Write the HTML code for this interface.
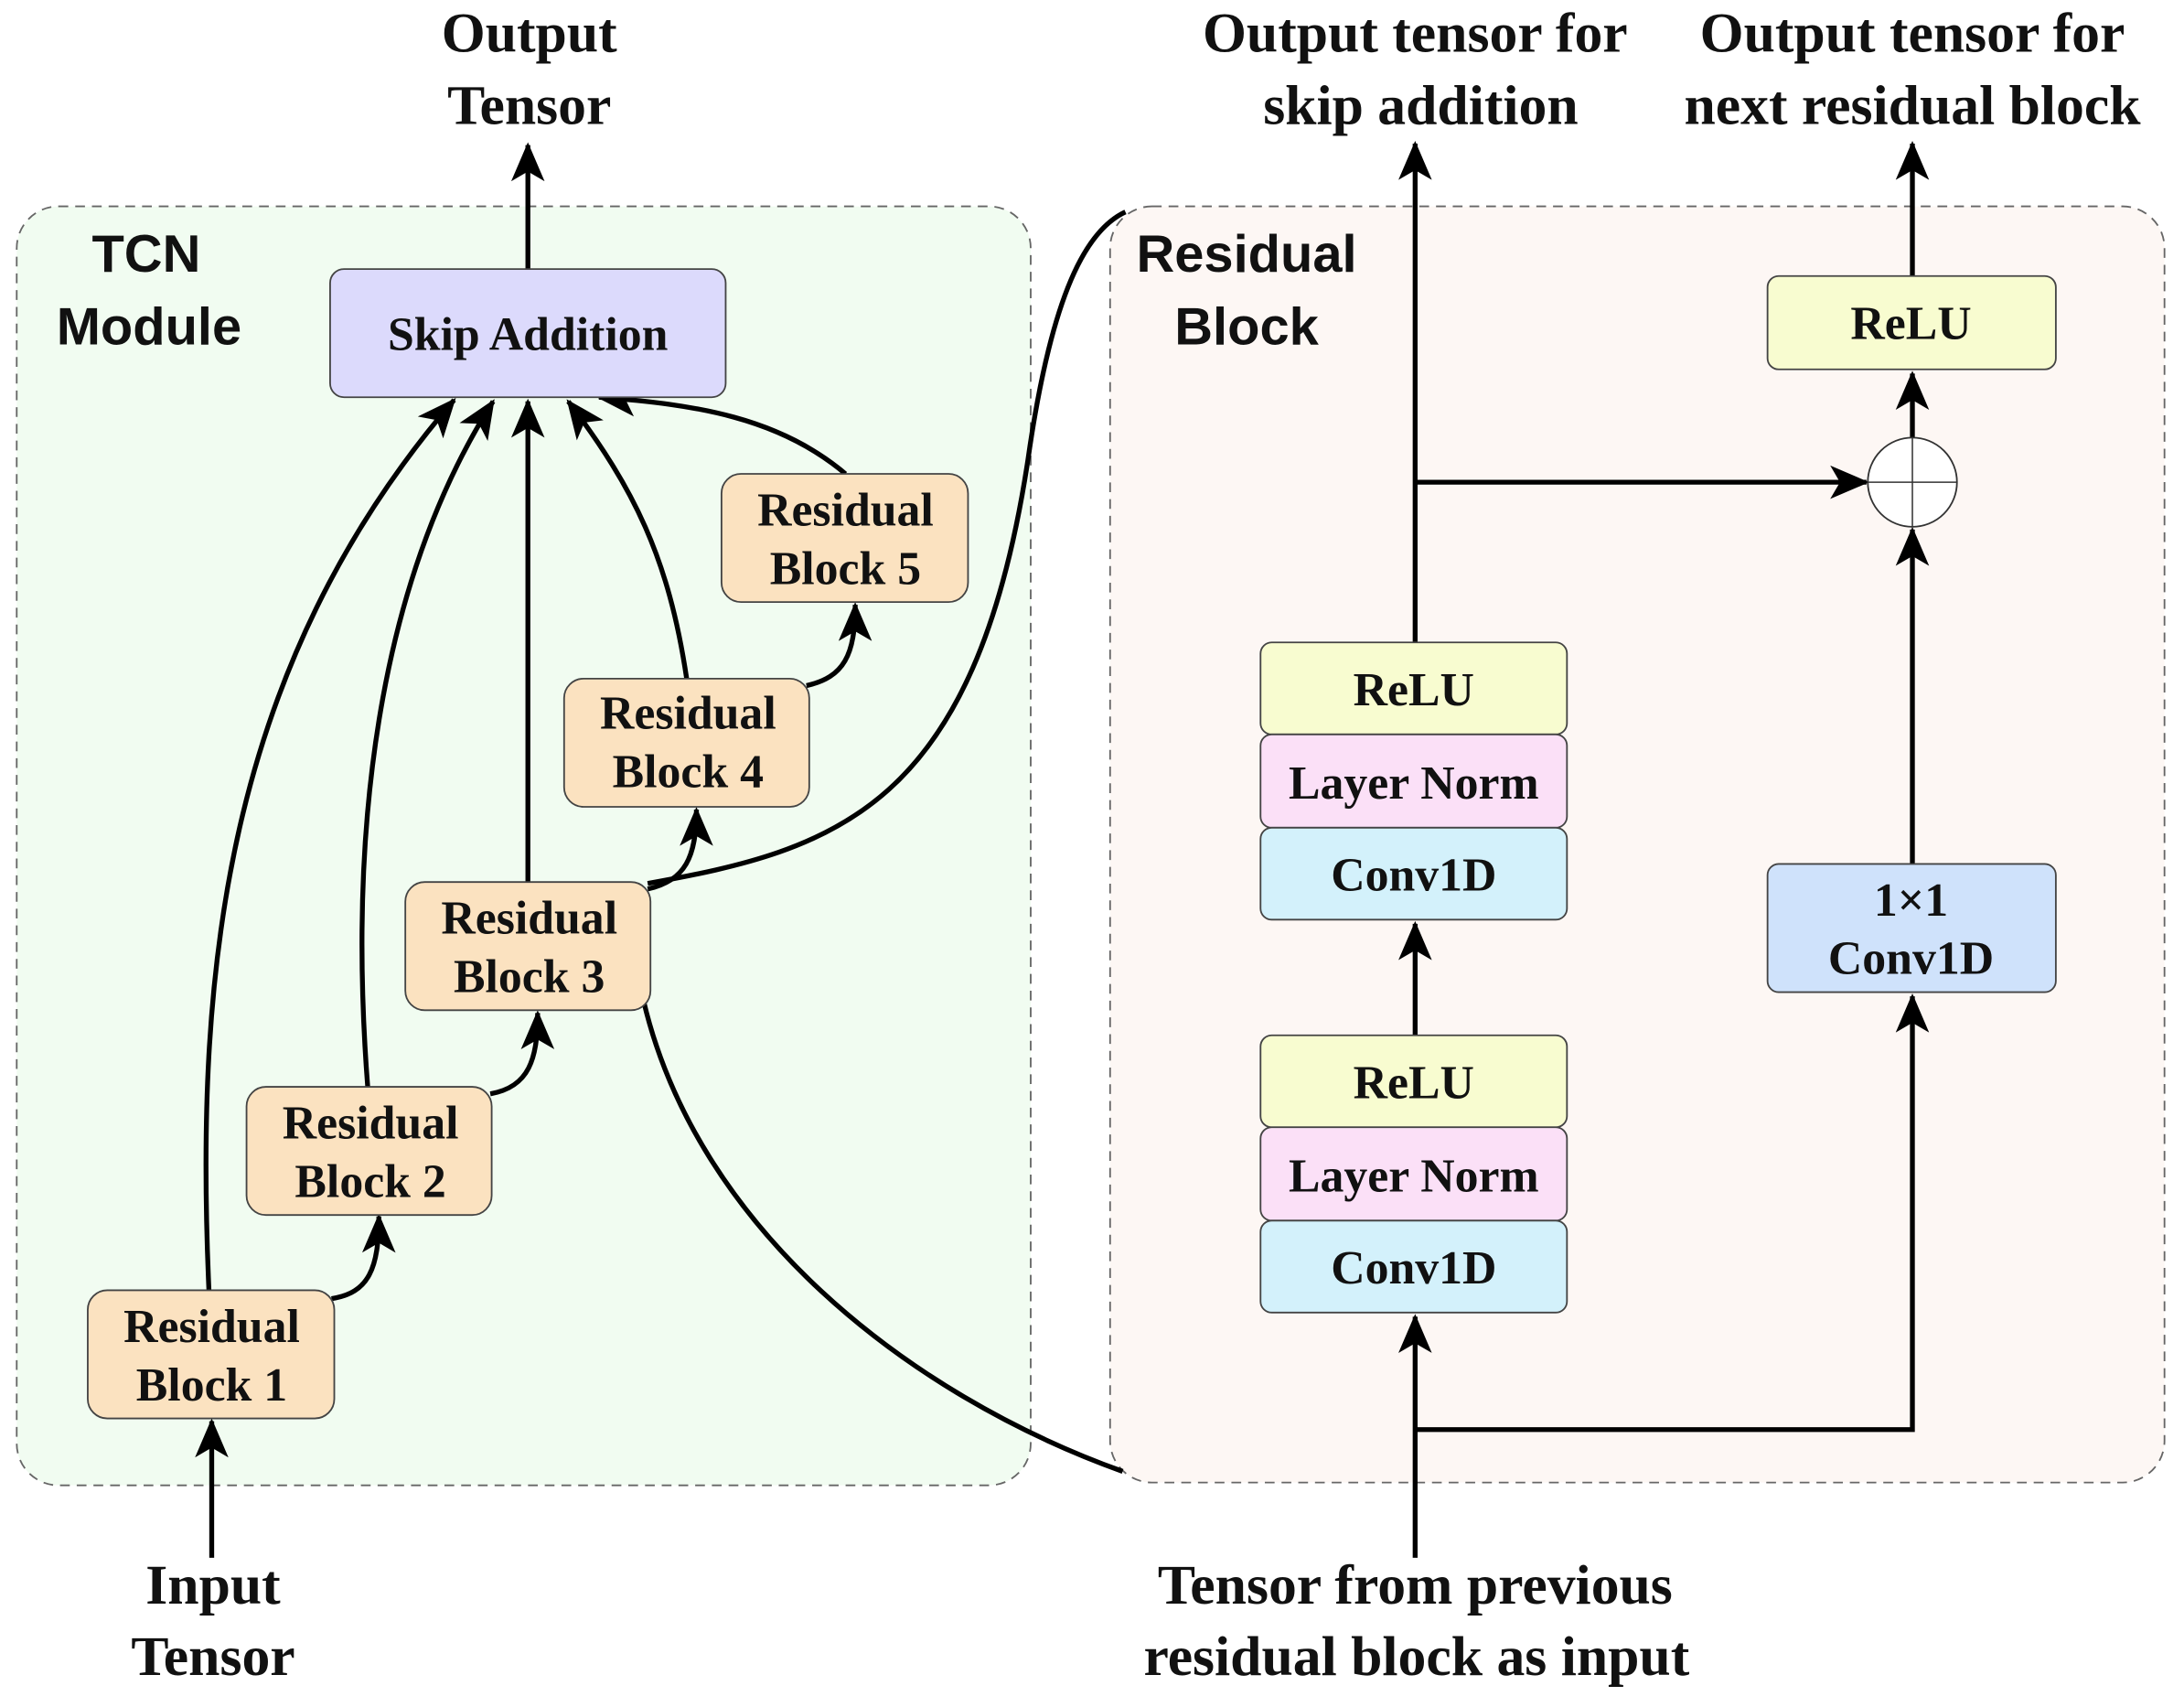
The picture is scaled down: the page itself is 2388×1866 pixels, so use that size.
<!DOCTYPE html>
<html><head><meta charset="utf-8"><style>
html,body{margin:0;padding:0;background:#fff}
svg{display:block}
.t{font-family:"Liberation Serif",serif;font-weight:bold;fill:#111}
.s{font-family:"Liberation Sans",sans-serif;font-weight:bold;fill:#111}
</style></head><body>
<svg width="2388" height="1866" viewBox="0 0 1568 1225" xmlns="http://www.w3.org/2000/svg">
<defs>
<marker id="b" markerWidth="28" markerHeight="24" refX="26" refY="12" orient="auto" markerUnits="userSpaceOnUse" viewBox="0 0 28 24">
<path d="M0,0 L28,12 L0,24 L7,12 Z" fill="#000"/></marker>
</defs>
<rect x="0" y="0" width="1568" height="1225" fill="#fff"/>
<rect x="12" y="148" width="728" height="918" rx="30" fill="#f1fcf1" stroke="#666" stroke-width="1.2" stroke-dasharray="7,5"/>
<rect x="797" y="148" width="757" height="916" rx="30" fill="#fdf7f4" stroke="#666" stroke-width="1.2" stroke-dasharray="7,5"/>
<text class="s" x="105" y="195" font-size="38" text-anchor="middle">TCN</text>
<text class="s" x="107" y="247" font-size="38" text-anchor="middle">Module</text>
<text class="s" x="895" y="195" font-size="38" text-anchor="middle">Residual</text>
<text class="s" x="895" y="247" font-size="38" text-anchor="middle">Block</text>

<g stroke="#000" stroke-width="3.5" fill="none">
<line x1="379" y1="193" x2="379" y2="104" marker-end="url(#b)"/>
<line x1="152" y1="1118" x2="152" y2="1020" marker-end="url(#b)"/>
<path d="M150,926 C140,700 160,480 326,287" marker-end="url(#b)"/>
<path d="M264,780 C250,600 270,420 354,288" marker-end="url(#b)"/>
<line x1="379" y1="633" x2="379" y2="288" marker-end="url(#b)"/>
<path d="M493,487 C480,400 455,350 408,288" marker-end="url(#b)"/>
<path d="M607,340 C560,300 500,290 430,285" marker-end="url(#b)"/>
<path d="M238,932 C265,928 272,910 272,873" marker-end="url(#b)"/>
<path d="M352,785 C380,780 386,760 386,727" marker-end="url(#b)"/>
<path d="M465,638 C492,632 500,615 500,581" marker-end="url(#b)"/>
<path d="M579,492 C606,486 614,470 614,434" marker-end="url(#b)"/>
<path d="M465,634 C600,610 700,580 738,330 C755,210 780,165 808,152"/>
<path d="M462,718 C500,880 650,1000 806,1056"/>
<line x1="1016" y1="1118" x2="1016" y2="945" marker-end="url(#b)"/>
<line x1="1016" y1="743" x2="1016" y2="663" marker-end="url(#b)"/>
<line x1="1016" y1="461" x2="1016" y2="103" marker-end="url(#b)"/>
<line x1="1016" y1="346" x2="1340" y2="346" marker-end="url(#b)"/>
<polyline points="1016,1026 1373,1026 1373,715" marker-end="url(#b)"/>
<line x1="1373" y1="620" x2="1373" y2="380" marker-end="url(#b)"/>
<line x1="1373" y1="314" x2="1373" y2="268" marker-end="url(#b)"/>
<line x1="1373" y1="198" x2="1373" y2="103" marker-end="url(#b)"/>
</g>

<g stroke="#444" stroke-width="1.2">
<rect x="237" y="193" width="284" height="92" rx="10" fill="#dcdafc"/>
<rect x="63" y="926" width="177" height="92" rx="14" fill="#fbe2c0"/>
<rect x="177" y="780" width="176" height="92" rx="14" fill="#fbe2c0"/>
<rect x="291" y="633" width="176" height="92" rx="14" fill="#fbe2c0"/>
<rect x="405" y="487" width="176" height="92" rx="14" fill="#fbe2c0"/>
<rect x="518" y="340" width="177" height="92" rx="14" fill="#fbe2c0"/>
<rect x="905" y="461" width="220" height="66" rx="8" fill="#f8fcd0"/>
<rect x="905" y="527" width="220" height="67" rx="8" fill="#fbe0f7"/>
<rect x="905" y="594" width="220" height="66" rx="8" fill="#d3f1fb"/>
<rect x="905" y="743" width="220" height="66" rx="8" fill="#f8fcd0"/>
<rect x="905" y="809" width="220" height="67" rx="8" fill="#fbe0f7"/>
<rect x="905" y="876" width="220" height="66" rx="8" fill="#d3f1fb"/>
<rect x="1269" y="198" width="207" height="67" rx="8" fill="#f8fcd0"/>
<rect x="1269" y="620" width="207" height="92" rx="8" fill="#cfe2fb"/>
</g>
<circle cx="1373" cy="346" r="32" fill="#fff" stroke="#333" stroke-width="1.2"/>
<line x1="1341" y1="346" x2="1405" y2="346" stroke="#333" stroke-width="1"/>
<line x1="1373" y1="314" x2="1373" y2="378" stroke="#333" stroke-width="1"/>

<g class="t" font-size="34" text-anchor="middle">
<text x="379" y="251">Skip Addition</text>
<text x="152" y="963">Residual</text><text x="152" y="1005">Block 1</text>
<text x="266" y="817">Residual</text><text x="266" y="859">Block 2</text>
<text x="380" y="670">Residual</text><text x="380" y="712">Block 3</text>
<text x="494" y="523">Residual</text><text x="494" y="565">Block 4</text>
<text x="607" y="377">Residual</text><text x="607" y="419">Block 5</text>
<text x="1015" y="506">ReLU</text>
<text x="1015" y="573">Layer Norm</text>
<text x="1015" y="639">Conv1D</text>
<text x="1015" y="788">ReLU</text>
<text x="1015" y="855">Layer Norm</text>
<text x="1015" y="921">Conv1D</text>
<text x="1372" y="243">ReLU</text>
<text x="1372" y="657">1×1</text>
<text x="1372" y="699">Conv1D</text>
</g>
<g class="t" font-size="40.5" text-anchor="middle">
<text x="380" y="37">Output</text><text x="380" y="89">Tensor</text>
<text x="1016" y="37">Output tensor for</text><text x="1020" y="89">skip addition</text>
<text x="1373" y="37">Output tensor for</text><text x="1373" y="89">next residual block</text>
<text x="153" y="1151">Input</text><text x="153" y="1202">Tensor</text>
<text x="1016" y="1151">Tensor from previous</text><text x="1017" y="1202">residual block as input</text>
</g>
</svg>
</body></html>
